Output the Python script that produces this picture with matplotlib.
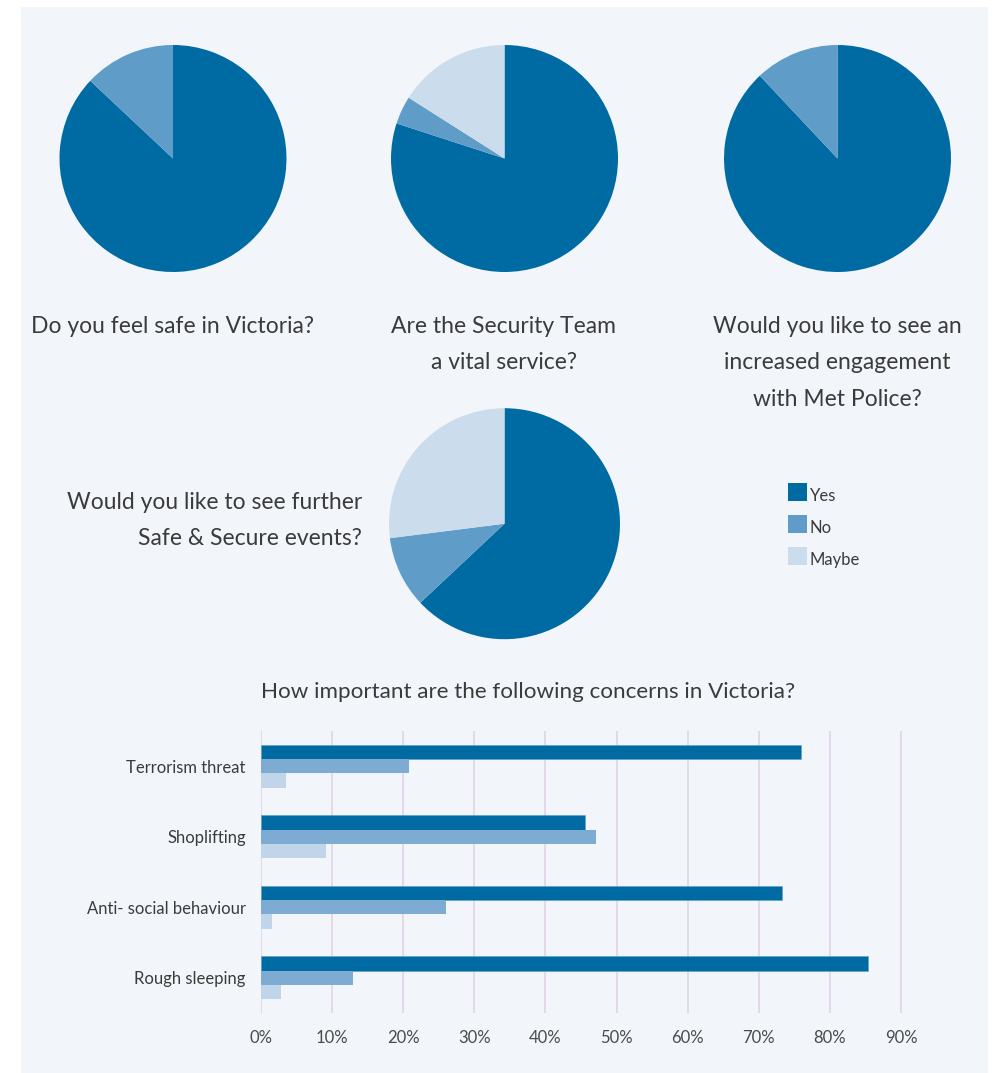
import matplotlib.pyplot as plt
import matplotlib.patches as mpatches
import numpy as np

W, H = 995, 1073
DPI = 100

# Pie data: shares of Yes / No / Maybe (%)
PIE_LABELS = ["Yes", "No", "Maybe"]
pie_safe = [87, 13, 0]
pie_security = [80, 4, 16]
pie_police = [88, 12, 0]
pie_events = [63, 10, 27]

pie_titles = [
    "Do you feel safe in Victoria?",
    "Are the Security Team\na vital service?",
    "Would you like to see an\nincreased engagement\nwith Met Police?",
    "Would you like to see further\nSafe & Secure events?",
]

# Bar chart data (%)
concerns = ["Terrorism threat", "Shoplifting", "Anti- social behaviour", "Rough sleeping"]
bar_yes = [75.9, 45.5, 73.3, 85.3]
bar_no = [20.8, 47.1, 26.0, 12.9]
bar_maybe = [3.5, 9.1, 1.6, 2.8]
x_ticks = [0, 10, 20, 30, 40, 50, 60, 70, 80, 90]

PIE_COLORS = ["#006ba3", "#5f9dc8", "#cbdcec"]
BAR_COLORS = ["#006ba3", "#7dabd1", "#c0d5ea"]
BG = "#f2f6fb"
TEXT = "#3b3b3b"
FONT = ["Lato", "DejaVu Sans"]

plt.rcParams["font.family"] = FONT


def px_axes(fig, x0, y0, w, h):
    """Add axes given pixel box (top-left origin)."""
    return fig.add_axes([x0 / W, 1 - (y0 + h) / H, w / W, h / H])


fig = plt.figure(figsize=(W / DPI, H / DPI), dpi=DPI)
fig.patch.set_facecolor("white")
fig.patches.append(mpatches.Rectangle((21 / W, 0), (988 - 21) / W, 1 - 7 / H,
                                      transform=fig.transFigure,
                                      facecolor=BG, edgecolor="none", zorder=-10))

# pies: (center x, center y, radius) in pixels
pie_boxes = [(173, 158.5, 113.5), (504.5, 158.5, 113.5),
             (837.5, 158.5, 113.5), (504.5, 523.7, 115.5)]
pie_data = [pie_safe, pie_security, pie_police, pie_events]

for (cx, cy, r), vals in zip(pie_boxes, pie_data):
    ax = px_axes(fig, cx - r, cy - r, 2 * r, 2 * r)
    ax.pie(vals, colors=PIE_COLORS, startangle=90, counterclock=False,
           radius=1, wedgeprops=dict(linewidth=0))
    ax.set_xlim(-1, 1)
    ax.set_ylim(-1, 1)
    ax.set_axis_off()

title_kw = dict(fontsize=16.5, color=TEXT, linespacing=1.9, va="top")
fig.text(173 / W, 1 - 316 / H, pie_titles[0], ha="center", **title_kw)
fig.text(504 / W, 1 - 316 / H, pie_titles[1], ha="center", multialignment="center", **title_kw)
fig.text(837 / W, 1 - 316 / H, pie_titles[2], ha="center", multialignment="center", **title_kw)
fig.text(362 / W, 1 - 492 / H, pie_titles[3], ha="right", multialignment="right", **title_kw)

# legend
for i, (lab, col) in enumerate(zip(PIE_LABELS, PIE_COLORS)):
    y = 483 + i * 32
    fig.patches.append(mpatches.Rectangle((788 / W, 1 - (y + 18) / H), 19 / W, 18 / H,
                                          transform=fig.transFigure,
                                          facecolor=col, edgecolor="none"))
    fig.text(810 / W, 1 - (y + 13) / H, lab, fontsize=12, color=TEXT,
             va="center", ha="left")

# bar chart
fig.text(528 / W, 1 - 692 / H, "How important are the following concerns in Victoria?",
         fontsize=16.1, color=TEXT, ha="center", va="center")

XMAX = 95
ax = px_axes(fig, 261, 731, XMAX * 7.111, 1013 - 731)
ax.set_facecolor("none")
y = np.arange(len(concerns))
bh = 0.205
for k, (vals, col) in enumerate(zip([bar_yes, bar_no, bar_maybe], BAR_COLORS)):
    ax.barh(y + (k - 1) * bh, vals, height=bh, color=col, zorder=2,
            edgecolor="#5f9dc8" if k == 0 else "none", linewidth=0.4)
ax.set_xlim(0, XMAX)
ax.set_ylim(3.5, -0.5)
ax.set_xticks(x_ticks)
ax.set_xticklabels([f"{t}%" for t in x_ticks])
ax.set_yticks(y)
ax.set_yticklabels(concerns)
ax.tick_params(length=0, labelsize=12, labelcolor=TEXT)
ax.tick_params(axis="x", pad=12, labelcolor="#4a4a4a")
ax.tick_params(axis="y", pad=11)
ax.grid(axis="x", color="#e2d2e8", linewidth=1.2, zorder=0)
ax.set_axisbelow(True)
for s in ax.spines.values():
    s.set_visible(False)

fig.savefig("out.png", dpi=DPI, facecolor=fig.get_facecolor())
